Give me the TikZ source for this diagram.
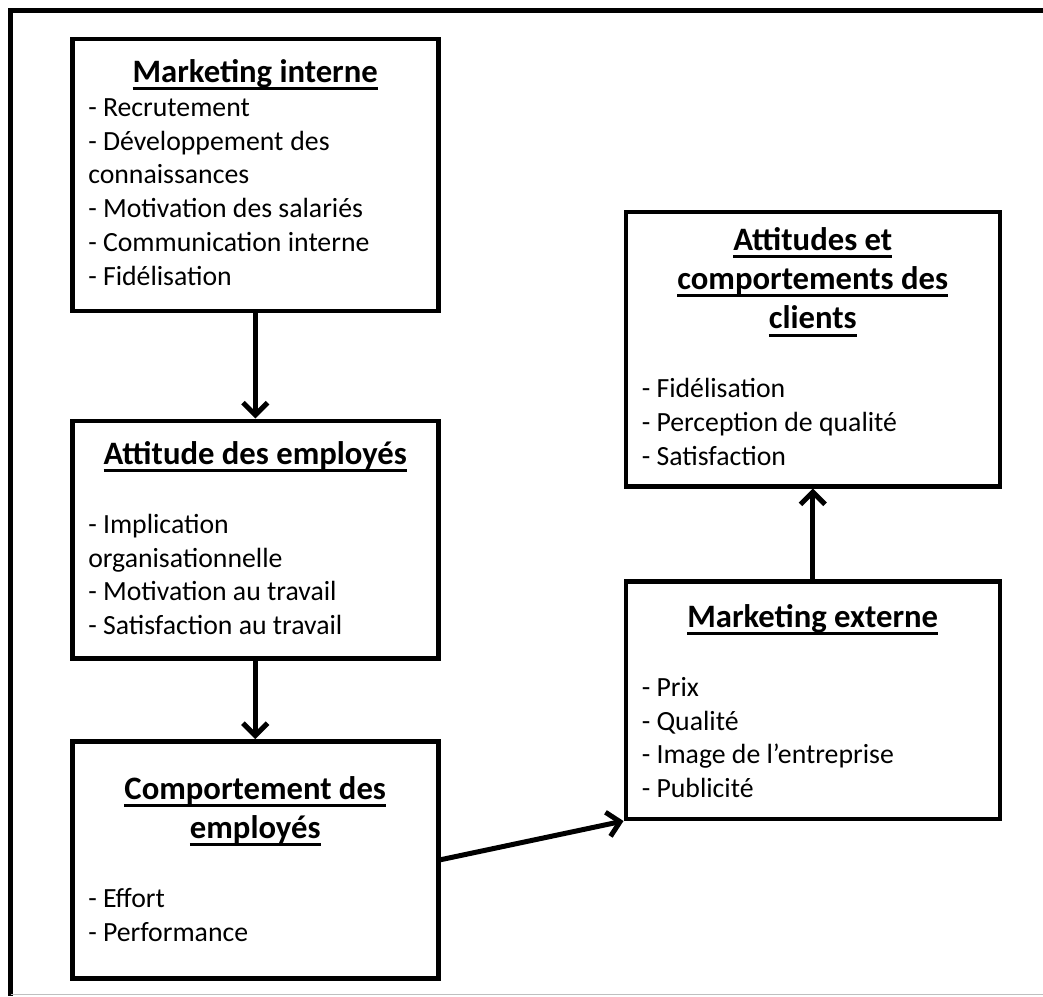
\documentclass[tikz,border=0pt]{standalone}
\usepackage{fontspec}
\setmainfont{Carlito}
\usetikzlibrary{arrows.meta,positioning}

\newdimen\px \px=0.02cm
\newcommand{\titre}{\fontsize{18.6pt}{22.4pt}\selectfont\bfseries\centering}
\newcommand{\corps}{\fontsize{15.8pt}{19.3pt}\selectfont\raggedright}
\newcommand{\souligne}[1]{\leavevmode\setbox0\hbox{#1}\rlap{\rule[-4.4pt]{\wd0}{1.7pt}}\box0}

\tikzset{
  bloc/.style={draw, line width=4.5\px, inner xsep=16\px, inner ysep=0pt, anchor=north west},
  fleche/.style={line width=5\px, -{Straight Barb[length=7pt, width=14pt]}}
}

\begin{document}
\begin{tikzpicture}[x=0.02cm, y=-0.02cm]
        \useasboundingbox (0,0) rectangle (1043,996);

        % Draw the outer frame
        \draw[line width=5\px] (1043,10.5) -- (10.5,10.5) -- (10.5,996);
        \draw[gray!50, line width=1.5\px] (10.5,994.5) -- (1043,994.5);

        % Draw the boxes on the left (employees side)
        \node[bloc] (mi) at (70,37) {\parbox[t][272\px][t]{334\px}{%
            {\titre\rule{0pt}{43\px}\souligne{Marketing interne}\par}
            {\corps - Recrutement\\
            - Développement\hspace{0.25em}des\\
            connaissances\\
            - Motivation des salariés\\
            - Communication interne\\
            - Fidélisation\par}}};

        \node[bloc] (ae) at (70,418.5) {\parbox[t][237.5\px][t]{334\px}{%
            {\titre\rule{0pt}{43.5\px}\souligne{Attitude des employés}\par}
            \vspace{35\px}
            {\corps - Implication\\
            organisationnelle\\
            - Motivation au travail\\
            - Satisfaction au travail\par}}};

        \node[bloc] (ce) at (70,739) {\parbox[t][237\px][t]{334\px}{%
            {\titre\rule{0pt}{58\px}\souligne{Comportement des}\\
            \souligne{employés}\par}
            \vspace{35\px}
            {\corps - Effort\\
            - Performance\par}}};

        % Draw the boxes on the right (customers side)
        \node[bloc] (ac) at (623.5,210) {\parbox[t][274\px][t]{342\px}{%
            {\titre\rule{0pt}{38\px}\souligne{Attitudes et}\\
            \souligne{comportements des}\\
            \souligne{clients}\par}
            \vspace{35\px}
            {\corps - Fidélisation\\
            - Perception de qualité\\
            - Satisfaction\par}}};

        \node[bloc] (me) at (623.5,579) {\parbox[t][237.5\px][t]{342\px}{%
            {\titre\rule{0pt}{46\px}\souligne{Marketing externe}\par}
            \vspace{35\px}
            {\corps - Prix\\
            - Qualité\\
            - Image de l’entreprise\\
            - Publicité\par}}};

        % Draw the arrows between the boxes
        \draw[fleche] (mi) -- (ae);
        \draw[fleche] (ae) -- (ce);
        \draw[fleche] (ce.east) -- (me.south west);
        \draw[fleche] (me) -- (ac);
\end{tikzpicture}
\end{document}
